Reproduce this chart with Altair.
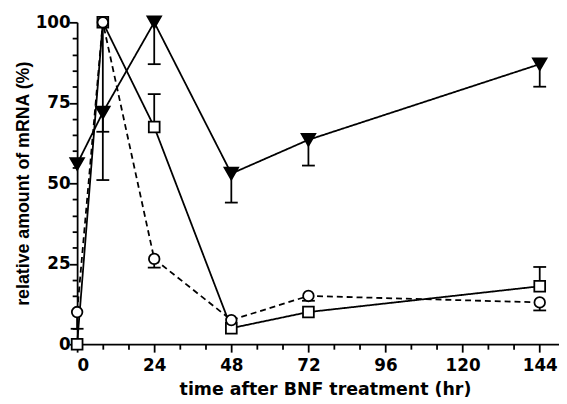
import altair as alt
import pandas as pd

# data
time = [0, 8, 24, 48, 72, 144]
tri_val = [56, 72, 100, 53, 63.5, 87]
tri_err = [56, 51, 87, 44, 55.5, 80]
sq_val = [0, 100, 67.5, 5, 10, 18]
sq_err = [0, 66, 77.7, 5, 10, 24]
circ_val = [10, 100, 26.5, 7.5, 15, 13]
circ_err = [4.8, 100, 23.8, 7.5, 13.5, 10.5]

x_ticks = list(range(0, 145, 8))
y_ticks = list(range(0, 101, 5))

WIDE = "DejaVu Sans"
NARROW = "Liberation Sans"

def frame(vals, errs):
    return pd.DataFrame({"t": time, "v": vals, "e": errs})

common_axis = dict(
    labelOverlap=False,
    grid=False,
    domainColor="black",
    domainWidth=1.8,
    tickColor="black",
    tickWidth=1.8,
    labelFont=WIDE,
    labelFontSize=17,
    labelFontWeight="bold",
    labelColor="black",
    titleFontWeight="bold",
    titleColor="black",
)

x_axis = alt.Axis(
    values=x_ticks,
    labelExpr="datum.value % 24 === 0 ? datum.label : ''",
    tickSize={"condition": {"test": "datum.value % 24 === 0", "value": 8}, "value": 5},
    labelPadding=6,
    title="time after BNF treatment (hr)",
    titleFont=WIDE,
    titleFontSize=17.6,
    titlePadding=7,
    titleX=251,
    **common_axis,
)
y_axis = alt.Axis(
    values=y_ticks,
    labelExpr="datum.value % 25 === 0 ? datum.label : ''",
    tickSize={"condition": {"test": "datum.value % 25 === 0", "value": 8}, "value": 5},
    labelPadding=-1,
    title="relative amount of mRNA (%)",
    titleFont=NARROW,
    titleFontSize=18,
    titlePadding=3,
    **common_axis,
)
x_scale = alt.Scale(domain=[0, 150], nice=False, zero=False)
y_scale = alt.Scale(domain=[0, 100], nice=False)

def X():
    return alt.X("t:Q", scale=x_scale, axis=x_axis)

def Y(field):
    return alt.Y(field, scale=y_scale, axis=y_axis)

series = [
    (frame(tri_val, tri_err), "triangle-down", "black", [1, 0], 190),
    (frame(sq_val, sq_err), "square", "white", [1, 0], 120),
    (frame(circ_val, circ_err), "circle", "white", [6, 4], 115),
]

lines, bars, points = [], [], []
for df, shape, fill, dash, size in series:
    base = alt.Chart(df)
    lines.append(
        base.mark_line(color="black", strokeWidth=1.8, strokeDash=dash).encode(x=X(), y=Y("v:Q"))
    )
    eb = df[df["e"] != df["v"]]
    bars.append(
        alt.Chart(eb).mark_rule(color="black", strokeWidth=1.8).encode(
            x=X(), y=Y("v:Q"), y2="e:Q"
        )
    )
    bars.append(
        alt.Chart(eb).mark_tick(color="black", thickness=1.8, size=13, orient="horizontal", opacity=1).encode(
            x=X(), y=Y("e:Q")
        )
    )
    points.append(
        base.mark_point(shape=shape, fill=fill, stroke="black", strokeWidth=1.8, size=size, opacity=1, fillOpacity=1).encode(
            x=X(), y=Y("v:Q")
        )
    )

chart = (
    alt.layer(*lines, *bars, *points)
    .properties(
        width=488,
        height=326,
        autosize=alt.AutoSizeParams(type="none"),
        padding={"left": 70, "top": 12, "right": 0, "bottom": 56},
    )
    .configure_view(stroke=None)
)

chart.save("out.html", embed_options={"renderer": "svg", "actions": False})
